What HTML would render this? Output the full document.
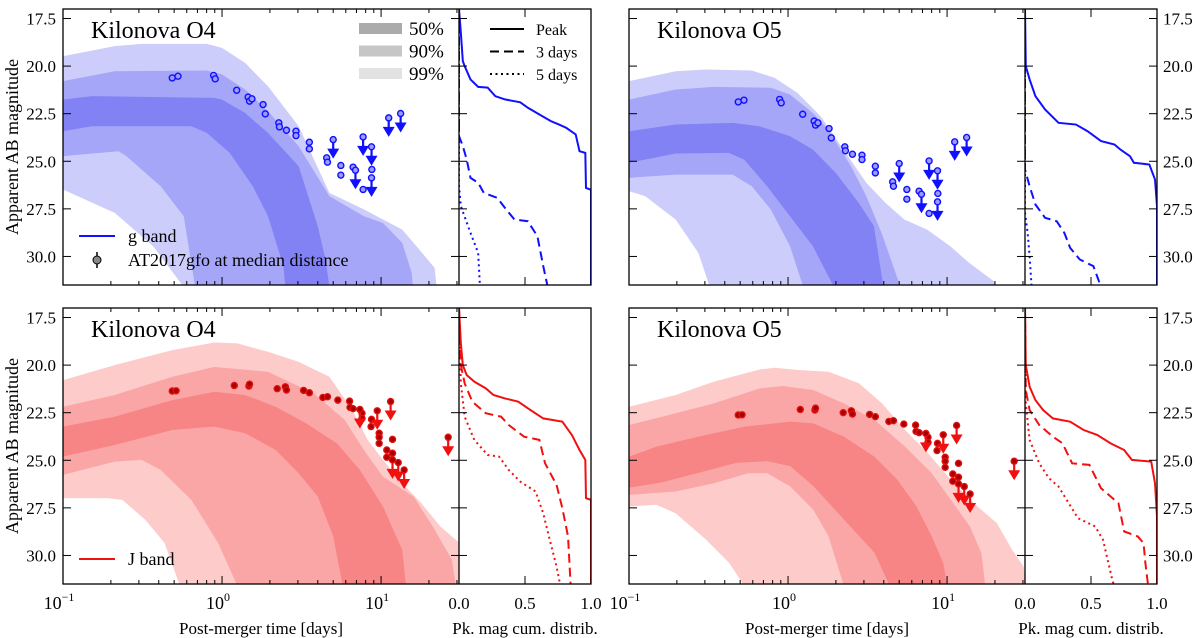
<!DOCTYPE html>
<html><head><meta charset="utf-8">
<style>
html,body{margin:0;padding:0;background:#fff;}
svg{display:block;font-family:"Liberation Serif",serif;}
</style></head>
<body>
<svg id="fig" width="1200" height="638" viewBox="0 0 1200 638" xmlns="http://www.w3.org/2000/svg"></svg>
<script>
// ---------- DATA (log10 days, AB magnitude) ----------
const magTicks=[17.5,20.0,22.5,25.0,27.5,30.0];
const cdfTicks=[0,0.5,1];
const cdfTickLabels=["0.0","0.5","1.0"];
const timeDecades=[-1,0,1];
const timeTickLabels=["−1","0","1"];
const bandLevels=["99","90","50"];

const gO4_99U=[[-1,19.48],[-0.675,18.95],[-0.506,18.83],[-0.096,18.83],[0,19.04],[0.145,19.83],[0.289,21.06],[0.482,23.16],[0.675,26.66],[0.892,27.53],[1.133,28.59],[1.205,29.29],[1.337,30.6],[1.349,31.6]];
const gO4_99L=[[-1,26.48],[-0.675,27.71],[-0.434,29.46],[-0.241,31.6]];
const gO4_90U=[[-1,20.79],[-0.675,20.27],[-0.096,20.23],[0,20.44],[0.145,21.23],[0.289,22.37],[0.482,24.21],[0.675,26.83],[0.892,27.89],[1.012,28.24],[1.133,29.29],[1.193,30.86],[1.2,31.6]];
const gO4_90L=[[-1,24.73],[-0.651,24.47],[-0.602,24.73],[-0.386,26.31],[-0.241,27.89],[-0.169,31.6]];
const gO4_50U=[[-1,21.76],[-0.819,21.58],[-0.048,21.67],[0,21.76],[0.145,22.46],[0.289,23.51],[0.482,25.26],[0.602,28.41],[0.651,30.16],[0.675,31.6]];
const gO4_50L=[[-1,23.42],[-0.819,23.16],[-0.193,23.16],[-0.096,23.51],[0.048,24.56],[0.193,26.31],[0.289,27.89],[0.386,30.51],[0.398,31.6]];

const gO5_99U=[[-1,20.79],[-0.707,20.27],[-0.516,20.18],[-0.228,20.23],[-0.084,20.62],[0.06,21.41],[0.204,22.63],[0.348,24.38],[0.492,26.13],[0.612,27.18],[0.731,28.06],[0.875,28.59],[1.019,29.46],[1.139,30.34],[1.295,31.3],[1.302,31.6]];
const gO5_99L=[[-1,26.57],[-0.899,26.83],[-0.707,28.06],[-0.564,29.81],[-0.492,31.6]];
const gO5_90U=[[-1,21.76],[-0.707,21.23],[-0.468,21.09],[-0.108,21.14],[0.012,21.49],[0.156,22.46],[0.252,23.33],[0.396,25.26],[0.492,26.83],[0.588,28.76],[0.707,31.6]];
const gO5_90L=[[-1,25.87],[-0.707,25.7],[-0.348,25.7],[-0.228,26.31],[-0.108,27.54],[0.012,29.46],[0.096,31.6]];
const gO5_50U=[[-1,23.42],[-0.707,23.07],[-0.348,22.98],[-0.18,23.16],[0.012,23.68],[0.156,24.38],[0.3,25.61],[0.444,27.18],[0.54,28.41],[0.6,31.6]];
const gO5_50L=[[-1,25.08],[-0.707,24.59],[-0.372,24.56],[-0.276,24.91],[-0.132,26.31],[0.012,27.89],[0.156,29.46],[0.288,31.6]];

const jO4_99U=[[-1,20.79],[-0.675,20.0],[-0.313,19.21],[-0.048,18.81],[0.096,18.86],[0.289,19.3],[0.482,19.83],[0.675,20.61],[0.819,22.36],[0.916,23.93],[1.012,24.98],[1.133,26.21],[1.253,27.26],[1.373,28.48],[1.494,29.35],[1.5,31.6]];
const jO4_99L=[[-1,26.99],[-0.723,26.99],[-0.627,27.08],[-0.482,28.13],[-0.361,29.35],[-0.265,31.6]];
const jO4_90U=[[-1,22.19],[-0.675,21.57],[-0.313,20.61],[-0.048,20.09],[0.289,20.35],[0.578,21.49],[0.771,22.88],[0.892,24.46],[1.012,25.86],[1.205,26.91],[1.325,28.48],[1.446,30.23],[1.47,31.6]];
const jO4_90L=[[-1,25.77],[-0.675,25.07],[-0.506,24.98],[-0.386,25.51],[-0.193,27.08],[-0.024,29.35],[0.096,31.6]];
const jO4_50U=[[-1,23.23],[-0.675,22.71],[-0.313,21.84],[-0.048,21.4],[0.145,21.57],[0.337,22.19],[0.53,23.06],[0.723,24.11],[0.867,25.51],[1.012,27.43],[1.133,29.7],[1.157,31.6]];
const jO4_50L=[[-1,24.81],[-0.675,24.2],[-0.313,23.41],[-0.048,23.23],[0.145,23.58],[0.337,24.46],[0.482,25.68],[0.602,26.91],[0.699,29.0],[0.759,31.6]];

const jO5_99U=[[-1,22.19],[-0.707,21.57],[-0.466,20.87],[-0.178,20.23],[-0.082,20.14],[0.063,20.26],[0.255,20.35],[0.447,20.96],[0.591,22.01],[0.736,23.41],[0.88,24.63],[1.024,26.03],[1.168,27.26],[1.313,28.3],[1.409,29.7],[1.481,30.58],[1.5,31.6]];
const jO5_99L=[[-1,27.43],[-0.827,27.34],[-0.707,27.78],[-0.514,29.18],[-0.37,30.4],[-0.274,31.6]];
const jO5_90U=[[-1,23.15],[-0.707,22.53],[-0.466,22.01],[-0.178,21.22],[-0.034,21.1],[0.159,21.31],[0.351,22.01],[0.543,22.88],[0.736,24.28],[0.904,25.68],[1.024,27.08],[1.144,28.48],[1.216,29.88],[1.24,31.6]];
const jO5_90L=[[-1,26.82],[-0.707,26.64],[-0.466,26.21],[-0.25,25.68],[-0.13,25.68],[0.014,26.38],[0.159,27.6],[0.255,29.0],[0.351,31.6]];
const jO5_50U=[[-1,24.81],[-0.827,24.28],[-0.563,23.76],[-0.274,23.23],[0.014,22.97],[0.159,23.06],[0.351,23.76],[0.543,24.81],[0.688,26.03],[0.808,27.43],[0.904,29.0],[0.976,30.4],[1.0,31.6]];
const jO5_50L=[[-1,26.44],[-0.803,26.18],[-0.563,25.66],[-0.322,25.13],[-0.13,25.05],[0.014,25.31],[0.159,26.36],[0.351,28.11],[0.543,29.85],[0.639,31.6]];

// AT2017gfo photometry at O4 median distance
const gfoG_det=[[-0.313,20.62],[-0.277,20.53],[-0.053,20.49],[-0.043,20.67],[0.092,21.27],[0.164,21.63],[0.173,21.84],[0.188,21.72],[0.258,22.02],[0.272,22.51],[0.357,22.98],[0.361,23.19],[0.405,23.37],[0.465,23.42],[0.465,23.65],[0.549,24.0],[0.549,24.35],[0.658,24.82],[0.663,25.05],[0.747,25.22],[0.747,25.73],[0.824,25.31],[0.887,26.48],[0.942,25.43]];
const gfoG_lim=[[0.699,23.86],[0.887,23.72],[0.94,24.24],[0.839,25.47],[0.94,25.87],[1.048,22.72],[1.123,22.49]];
const gfoJ_det=[[-0.313,21.36],[-0.289,21.35],[0.077,21.07],[0.169,21.1],[0.173,21.0],[0.347,21.24],[0.398,21.14],[0.405,21.31],[0.513,21.33],[0.549,21.45],[0.634,21.7],[0.663,21.66],[0.728,21.84],[0.802,21.89],[0.805,22.22],[0.824,22.29],[0.88,22.53],[0.88,22.8],[0.94,22.85],[0.937,23.23],[0.988,23.58],[0.988,23.79],[0.988,24.11],[1.036,24.46],[1.036,24.84],[1.072,23.9],[1.072,24.63]];
const gfoJ_lim=[[1.06,21.91],[0.976,22.4],[0.867,22.33],[1.072,24.98],[1.108,25.12],[1.145,25.51],[1.422,23.79]];
const distOffsetO4=0.0;
const distOffsetO5=1.26;

// peak-mag cumulative distributions [fraction, mag]
const cdfG_O4_peak=[[0,17.0],[0.014,18.25],[0.029,19.74],[0.043,20.0],[0.087,20.7],[0.145,21.09],[0.217,21.13],[0.275,21.58],[0.348,21.75],[0.464,21.9],[0.522,22.19],[0.609,22.54],[0.696,22.89],[0.754,23.06],[0.812,23.24],[0.884,23.59],[0.913,24.47],[0.957,24.56],[0.962,26.4],[1,26.5],[1,31.6]];
const cdfG_O4_3d=[[0,17.0],[0,23.68],[0.029,24.2],[0.058,24.9],[0.087,25.87],[0.145,26.13],[0.188,26.66],[0.29,26.92],[0.348,27.45],[0.42,28.06],[0.522,28.15],[0.594,28.94],[0.638,30.5],[0.672,31.6]];
const cdfG_O4_5d=[[0,17.0],[0,26.3],[0.014,27.36],[0.087,28.76],[0.145,29.81],[0.159,31.6]];
const cdfG_O5_peak=[[0,17.0],[0.006,20.0],[0.035,20.7],[0.079,21.58],[0.152,22.28],[0.254,22.98],[0.386,23.07],[0.474,23.42],[0.576,23.94],[0.678,24.12],[0.722,24.38],[0.795,24.73],[0.825,25.08],[0.942,25.17],[0.985,25.96],[1,27.36],[1,31.6]];
const cdfG_O5_3d=[[0,17.0],[0,25.43],[0.035,26.31],[0.079,27.27],[0.152,27.97],[0.24,28.15],[0.298,28.76],[0.342,29.55],[0.415,30.16],[0.518,30.51],[0.576,31.6]];
const cdfG_O5_5d=[[0,17.0],[0,27.7],[0.02,28.76],[0.035,29.99],[0.05,31.6]];
const cdfJ_O4_peak=[[0,17.0],[0.014,18.86],[0.029,20.0],[0.058,20.52],[0.116,20.87],[0.203,21.22],[0.261,21.57],[0.348,21.75],[0.449,21.92],[0.522,22.27],[0.638,22.8],[0.783,22.97],[0.855,23.67],[0.913,24.46],[0.957,24.98],[0.962,26.99],[1,27.08],[1,31.6]];
const cdfJ_O4_3d=[[0,17.0],[0.014,20.0],[0.043,20.96],[0.101,21.92],[0.203,22.53],[0.319,22.71],[0.377,23.15],[0.493,23.76],[0.609,23.93],[0.652,25.16],[0.739,26.29],[0.783,27.52],[0.826,29.0],[0.846,31.6]];
const cdfJ_O4_5d=[[0,17.0],[0.014,20.96],[0.043,22.71],[0.116,23.93],[0.217,24.72],[0.304,24.81],[0.377,25.51],[0.464,26.12],[0.58,26.64],[0.638,27.78],[0.681,29.0],[0.739,30.58],[0.768,31.6]];
const cdfJ_O5_peak=[[0,17.0],[0.006,20.0],[0.035,21.14],[0.079,21.84],[0.137,22.36],[0.211,22.8],[0.342,22.97],[0.444,23.41],[0.547,23.67],[0.649,24.11],[0.751,24.46],[0.81,24.98],[0.956,25.07],[0.985,26.21],[1,27.95],[1,31.6]];
const cdfJ_O5_3d=[[0,17.0],[0.006,21.31],[0.035,22.36],[0.108,23.15],[0.211,23.76],[0.284,24.11],[0.357,25.16],[0.488,25.24],[0.576,26.47],[0.708,27.26],[0.751,28.74],[0.854,29.0],[0.898,29.35],[0.912,30.4],[0.933,31.6]];
const cdfJ_O5_5d=[[0,17.0],[0.006,22.01],[0.035,23.93],[0.108,25.16],[0.181,25.94],[0.254,26.38],[0.401,28.04],[0.532,28.48],[0.591,29.18],[0.664,31.36],[0.678,31.6]];

// ---------- DRAWING ----------
const NS="http://www.w3.org/2000/svg";
const svg=document.getElementById('fig');
const W=396, CW=132, H=276, LMIN=-1, LMAX=1.49, MMIN=17.0, MMAX=31.5;
function mk(tag,attrs,parent){const e=document.createElementNS(NS,tag);for(const k in attrs)e.setAttribute(k,attrs[k]);(parent||svg).appendChild(e);return e;}

function panel(id,ox,oy,bands,cols,det,lim,off,cdfs,lineCol,dotFill,dotStroke,leftLabels,rightLabels,bottomLabels,title){
  const g=mk('g',{});
  
  
  const xS=l=>ox+(l-LMIN)/(LMAX-LMIN)*W;
  const yS=m=>oy+(m-MMIN)/(MMAX-MMIN)*H;
  const cx0=ox+W;
  const cS=f=>cx0+f*CW;
  const clipM=mk('clipPath',{id:id+'-cm'},g); mk('rect',{x:ox,y:oy,width:W,height:H},clipM);
  const clipC=mk('clipPath',{id:id+'-cc'},g); mk('rect',{x:cx0,y:oy,width:CW,height:H},clipC);
  const bg=mk('g',{'clip-path':`url(#${id}-cm)`},g);
  bands.forEach((b,i)=>{
    const pts=b[0].map(p=>xS(p[0])+','+yS(p[1])).concat(b[1].slice().reverse().map(p=>xS(p[0])+','+yS(p[1])));
    const poly=mk('polygon',{points:pts.join(' '),fill:cols[i],stroke:'none'},bg);
    
    
  });
  det.forEach(p=>{
    const c=mk('circle',{cx:xS(p[0]),cy:yS(p[1]+off),r:3,fill:dotFill,stroke:dotStroke,'stroke-width':1.4},bg);
    
    
  });
  lim.forEach(p=>{
    const x=xS(p[0]),y=yS(p[1]+off);
    const a=mk('g',{},bg);
    
    
    mk('line',{x1:x,y1:y,x2:x,y2:y+13,stroke:lineCol,'stroke-width':2.2},a);
    mk('polygon',{points:`${x-6},${y+9} ${x+6},${y+9} ${x},${y+19}`,fill:lineCol},a);
    mk('circle',{cx:x,cy:y,r:3,fill:dotFill,stroke:dotStroke,'stroke-width':1.4},a);
  });
  const cg=mk('g',{'clip-path':`url(#${id}-cc)`},g);
  const dashes=['none','9,5','2,3.5'];
  const cnames=['cdf-peak','cdf-3-days','cdf-5-days'];
  cdfs.forEach((c,i)=>{
    const pl=mk('polyline',{points:c.map(p=>cS(p[0])+','+yS(p[1])).join(' '),fill:'none',stroke:lineCol,'stroke-width':2,'stroke-dasharray':dashes[i]},cg);
    
    
  });
  mk('rect',{x:ox,y:oy,width:W+CW,height:H,fill:'none',stroke:'#000','stroke-width':1.3},g);
  mk('line',{x1:cx0,y1:oy,x2:cx0,y2:oy+H,stroke:'#000','stroke-width':1.3},g);
  for(let d=-1;d<=1;d++){
    for(let k=1;k<=9;k++){
      const l=d+Math.log10(k); if(l>LMAX)continue;
      const x=xS(l), len=k===1?8:4;
      mk('line',{x1:x,y1:oy,x2:x,y2:oy+len,stroke:'#000','stroke-width':1},g);
      mk('line',{x1:x,y1:oy+H,x2:x,y2:oy+H-len,stroke:'#000','stroke-width':1},g);
    }
  }
  cdfTicks.forEach(f=>{
    const x=cS(f);
    mk('line',{x1:x,y1:oy,x2:x,y2:oy+8,stroke:'#000','stroke-width':1},g);
    mk('line',{x1:x,y1:oy+H,x2:x,y2:oy+H-8,stroke:'#000','stroke-width':1},g);
  });
  magTicks.forEach(m=>{
    const y=yS(m);
    mk('line',{x1:ox,y1:y,x2:ox+8,y2:y,stroke:'#000','stroke-width':1},g);
    mk('line',{x1:cx0-8,y1:y,x2:cx0+8,y2:y,stroke:'#000','stroke-width':1},g);
    if(rightLabels) mk('line',{x1:cx0+CW-8,y1:y,x2:cx0+CW,y2:y,stroke:'#000','stroke-width':1},g);
    if(leftLabels){const t=mk('text',{x:ox-7,y:y+6,'font-size':17,'text-anchor':'end'},g);t.textContent=m.toFixed(1);
      }
    if(rightLabels){const t=mk('text',{x:cx0+CW+6,y:y+6,'font-size':17},g);t.textContent=m.toFixed(1);
      }
  });
  if(bottomLabels){
    timeDecades.forEach((d,i)=>{
      const t=mk('text',{x:xS(d)-4,y:oy+H+25,'font-size':18,'text-anchor':'middle'},g);
      
      t.textContent='10';
      const s=mk('tspan',{dy:-8,'font-size':12},t);s.textContent=timeTickLabels[i];
    });
    cdfTicks.forEach((f,i)=>{
      const t=mk('text',{x:cS(f),y:oy+H+25,'font-size':17,'text-anchor':'middle'},g);t.textContent=cdfTickLabels[i];
      
    });
    const xt=mk('text',{x:ox+W/2,y:oy+H+50,'font-size':17,'text-anchor':'middle'},g);xt.textContent='Post-merger time [days]';
    
    const ct=mk('text',{x:cx0+CW/2,y:oy+H+50,'font-size':17,'text-anchor':'middle'},g);ct.textContent='Pk. mag cum. distrib.';
    
  }
  if(leftLabels){
    const yt=mk('text',{x:0,y:0,'font-size':18,'text-anchor':'middle',transform:`translate(18,${oy+H/2}) rotate(-90)`},g);
    yt.textContent='Apparent AB magnitude';
    
  }
  const tt=mk('text',{x:ox+28,y:oy+29,'font-size':24},g);tt.textContent=title;
  
  return g;
}
const blueCols=['#cdcdfb','#a6a6f8','#8282f5'];
const redCols=['#fecbcb','#fba6a6','#f88585'];
panel('g-o4',63,9,[[gO4_99U,gO4_99L],[gO4_90U,gO4_90L],[gO4_50U,gO4_50L]],blueCols,gfoG_det,gfoG_lim,distOffsetO4,[cdfG_O4_peak,cdfG_O4_3d,cdfG_O4_5d],'#1010ff','#9a9aff','#1010ff',true,false,false,'Kilonova O4');
panel('g-o5',629,9,[[gO5_99U,gO5_99L],[gO5_90U,gO5_90L],[gO5_50U,gO5_50L]],blueCols,gfoG_det,gfoG_lim,distOffsetO5,[cdfG_O5_peak,cdfG_O5_3d,cdfG_O5_5d],'#1010ff','#9a9aff','#1010ff',false,true,false,'Kilonova O5');
panel('j-o4',63,308,[[jO4_99U,jO4_99L],[jO4_90U,jO4_90L],[jO4_50U,jO4_50L]],redCols,gfoJ_det,gfoJ_lim,distOffsetO4,[cdfJ_O4_peak,cdfJ_O4_3d,cdfJ_O4_5d],'#f01010','#a80000','#e01010',true,false,true,'Kilonova O4');
panel('j-o5',629,308,[[jO5_99U,jO5_99L],[jO5_90U,jO5_90L],[jO5_50U,jO5_50L]],redCols,gfoJ_det,gfoJ_lim,distOffsetO5,[cdfJ_O5_peak,cdfJ_O5_3d,cdfJ_O5_5d],'#f01010','#a80000','#e01010',false,true,true,'Kilonova O5');

// ---------- LEGENDS ----------
const lg=mk('g',{});


const shades=['#ababab','#c6c6c6','#e2e2e2'];
const shadeLabels=['50%','90%','99%'];
shades.forEach((c,i)=>{
  const e=mk('g',{},lg);
  
  
  mk('rect',{x:359,y:23+i*22.5,width:43,height:11,fill:c},e);
  const t=mk('text',{x:409,y:35+i*22.5,'font-size':19},e);t.textContent=shadeLabels[i];
});
const lsLabels=['Peak','3 days','5 days'];
const lsDash=['none','9,5','2,3.5'];
lsLabels.forEach((s,i)=>{
  const e=mk('g',{},lg);
  
  
  mk('line',{x1:490,y1:29+i*22.5,x2:524,y2:29+i*22.5,stroke:'#000','stroke-width':2,'stroke-dasharray':lsDash[i]},e);
  const t=mk('text',{x:536,y:35+i*22.5,'font-size':16},e);t.textContent=s;
});
const gb=mk('g',{},lg);


mk('line',{x1:79,y1:236,x2:115,y2:236,stroke:'#1010ff','stroke-width':2},gb);
let t1=mk('text',{x:128,y:242,'font-size':18},gb);t1.textContent='g band';
const ge=mk('g',{},lg);


mk('line',{x1:97,y1:252,x2:97,y2:268,stroke:'#000','stroke-width':1.5},ge);
mk('circle',{cx:97,cy:260,r:4,fill:'#888',stroke:'#000','stroke-width':1},ge);
let t2=mk('text',{x:128,y:266,'font-size':18},ge);t2.textContent='AT2017gfo at median distance';
const jb=mk('g',{},lg);


mk('line',{x1:79,y1:559,x2:115,y2:559,stroke:'#f01010','stroke-width':2},jb);
let t3=mk('text',{x:128,y:565,'font-size':18},jb);t3.textContent='J band';
</script>
</body></html>
